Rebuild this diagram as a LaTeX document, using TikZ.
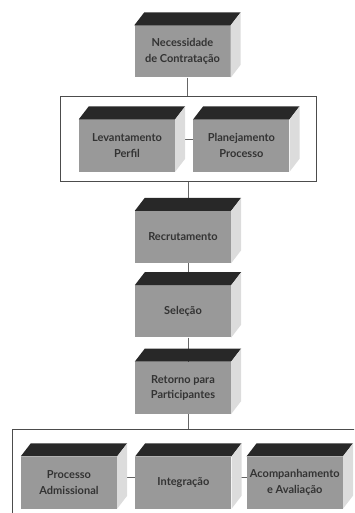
\documentclass[tikz,border=0pt]{standalone}
\usepackage{fontspec}
\setmainfont{Lato}
\usepackage{tikz}
\usetikzlibrary{positioning, calc, backgrounds}

\definecolor{frente}{HTML}{999999}
\definecolor{topo}{HTML}{282828}
\definecolor{lado}{HTML}{DCDCDC}

\begin{document}
\begin{tikzpicture}[x=1pt, y=-1pt,
    caixa/.style={fill=frente, minimum width=96pt, minimum height=52pt, inner sep=1pt,
                  align=center, font=\fontsize{11}{15.5}\selectfont\bfseries, text=black!80},
    moldura/.style={draw=black!70, line width=0.7pt, inner sep=0pt},
    ligacao/.style={draw=black!60, line width=0.8pt}]
    \path[use as bounding box, clip] (0,0) rectangle (354,513);

    % etapas
    \node[caixa] (nec) at (182.5,51.5) {Necessidade\\de Contratação};
    \node[caixa] (lev) at (127,145.5) {Levantamento\\Perfil};
    \node[caixa, right=18pt of lev] (plan) {Planejamento\\Processo};
    \node[caixa] (rec) at (183,237) {Recrutamento};
    \node[caixa, below=22pt of rec] (sel) {Seleção};
    \node[caixa, below=24pt of sel] (ret) {Retorno para\\Participantes};
    \node[caixa] (proc) at (69,482.5) {Processo\\Admissional};
    \node[caixa, right=18pt of proc] (int) {Integração};
    \node[caixa, right=15pt of int] (acomp) {Acompanhamento\\e Avaliação};

    % molduras dos grupos
    \node[moldura, minimum width=256pt, minimum height=85pt] (grupo1) at (188,138.5) {};
    \node[moldura, anchor=north west, minimum width=400pt, minimum height=120pt] (grupo2) at (12,429) {};

    % faces de cima e do lado
    \foreach \c in {nec,lev,plan,rec,sel,ret,proc,int,acomp} {
        \fill[topo] (\c.north west) -- ++(10,-13) -- ($(\c.north east)+(10,-13)$) -- (\c.north east) -- cycle;
        \fill[lado] (\c.north east) -- ++(10,-13) -- ($(\c.south east)+(10,-13)$) -- (\c.south east) -- cycle;
    }

    \begin{scope}[on background layer]
        \coordinate (n1) at ($(nec.south)+(5,0)$);
        \draw[ligacao] (n1) -- (n1 |- grupo1.north);
        \draw[ligacao] (grupo1.south) -- (grupo1.south |- rec.north);
        \draw[ligacao] ($(lev.east)+(0,-6)$) -- ($(plan.west)+(0,-6)$);
        \draw[ligacao] ($(rec.south)+(5,0)$) -- ($(sel.north)+(5,0)$);
        \draw[ligacao] ($(sel.south)+(5,0)$) -- ($(ret.north)+(5,0)$);
        \coordinate (r1) at ($(ret.south)+(5,0)$);
        \draw[ligacao] (r1) -- (r1 |- grupo2.north);
        \draw[ligacao] ($(proc.east)+(0,-5)$) -- ($(int.west)+(0,-5)$);
        \draw[ligacao] ($(int.east)+(0,-5)$) -- ($(acomp.west)+(0,-5)$);
    \end{scope}
\end{tikzpicture}
\end{document}
